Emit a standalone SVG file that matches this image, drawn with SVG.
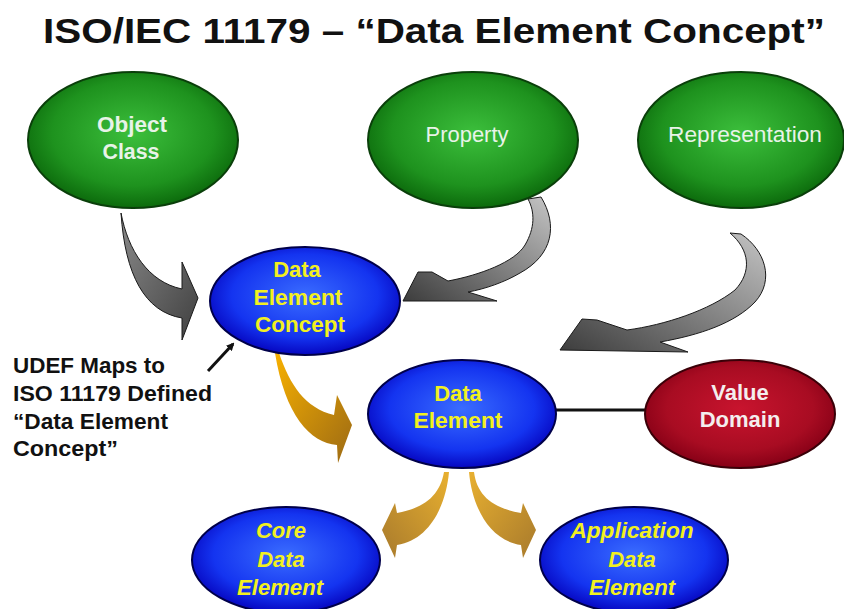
<svg xmlns="http://www.w3.org/2000/svg" width="844" height="609" viewBox="0 0 844 609">
<defs>
  <radialGradient id="gGreen" cx="50%" cy="45%" r="55%">
    <stop offset="0" stop-color="#3cbf3c"/>
    <stop offset="0.7" stop-color="#1e921e"/>
    <stop offset="1" stop-color="#0c6a0c"/>
  </radialGradient>
  <radialGradient id="gBlue" cx="50%" cy="45%" r="55%">
    <stop offset="0" stop-color="#3a6cff"/>
    <stop offset="0.7" stop-color="#1434f0"/>
    <stop offset="1" stop-color="#0606c0"/>
  </radialGradient>
  <radialGradient id="gRed" cx="50%" cy="45%" r="55%">
    <stop offset="0" stop-color="#c8142e"/>
    <stop offset="0.7" stop-color="#a80c22"/>
    <stop offset="1" stop-color="#860016"/>
  </radialGradient>
  <linearGradient id="gGray1" x1="0" y1="0" x2="1" y2="1">
    <stop offset="0" stop-color="#8a8a8a"/>
    <stop offset="1" stop-color="#404040"/>
  </linearGradient>
  <linearGradient id="gGray2" x1="1" y1="0" x2="0" y2="1">
    <stop offset="0" stop-color="#c4c4c4"/>
    <stop offset="1" stop-color="#3c3c3c"/>
  </linearGradient>
  <linearGradient id="gGold" x1="0" y1="0" x2="1" y2="1">
    <stop offset="0" stop-color="#f7b000"/>
    <stop offset="1" stop-color="#9c6a14"/>
  </linearGradient>
  <linearGradient id="gGoldL" x1="1" y1="0" x2="0" y2="1">
    <stop offset="0" stop-color="#e8b030"/>
    <stop offset="1" stop-color="#a87a2c"/>
  </linearGradient>
  <linearGradient id="gGoldR" x1="0" y1="0" x2="1" y2="1">
    <stop offset="0" stop-color="#e8b030"/>
    <stop offset="1" stop-color="#a87a2c"/>
  </linearGradient>
  <marker id="blackHead" markerWidth="8" markerHeight="8" refX="6" refY="4" orient="auto" markerUnits="userSpaceOnUse">
    <path d="M0,0 L8,4 L0,8 Z" fill="#111"/>
  </marker>
</defs>
<style>
  text { font-family: "Liberation Sans", Arial, sans-serif; }
  .title { font-size: 35px; font-weight: bold; fill: #111; }
  .green { fill: url(#gGreen); stroke: #0a3f0a; stroke-width: 2; }
  .blue { fill: url(#gBlue); stroke: #00004a; stroke-width: 2; }
  .red { fill: url(#gRed); stroke: #3a0008; stroke-width: 2; }
  .gtxt { font-size: 22px; fill: #e8f3e8; text-anchor: middle; }
  .btxt { font-size: 22px; font-weight: bold; fill: #f2f020; text-anchor: middle; }
  .itxt { font-size: 22px; font-weight: bold; font-style: italic; fill: #f2f020; text-anchor: middle; }
  .wtxt { font-size: 22px; font-weight: bold; fill: #f4eeee; text-anchor: middle; }
  .note { font-size: 22px; font-weight: bold; fill: #111; }
  .garrow { stroke: #1a1a1a; stroke-width: 1; stroke-linejoin: round; }
  .oarrow { stroke: none; }
</style>

<text class="title" x="43" y="43" textLength="782" lengthAdjust="spacingAndGlyphs">ISO/IEC 11179 – “Data Element Concept”</text>

<g id="connectors">
  <path class="garrow" fill="url(#gGray1)" d="M121,213 C128,250 148,282 182,289 L182,262 L198,298 L182,340 L182,318 C145,312 125,275 121,213 Z"/>
  <path class="garrow" fill="url(#gGray2)" d="M541,197 C558,225 553,255 520,273 C505,282 485,289 468,292 L497,301 L403,301 L418,272 L432,272 L448,281 C480,275 515,262 525,245 C535,228 535,212 528,199 Z"/>
  <path class="garrow" fill="url(#gGray2)" d="M730,233 L741,234 C765,250 775,280 755,302 C735,323 700,335 660,342 L688,352 L560,350 L582,319 L597,320 L627,330 C665,325 710,310 735,290 C752,272 750,250 730,233 Z"/>
  <path class="oarrow" fill="url(#gGold)" d="M275,353 L279,353 C290,385 305,408 334,415 L337,395 L352,425 L338,463 L337,445 C310,443 285,415 275,353 Z"/>
  <path class="oarrow" fill="url(#gGoldL)" d="M444,472 L449,472 C446,505 430,540 397,545 L395,558 L382,530 L395,503 L397,513 C425,508 440,495 444,472 Z"/>
  <path class="oarrow" fill="url(#gGoldR)" d="M474,472 C477,495 492,508 521,513 L523,503 L536,530 L523,558 L521,545 C488,540 472,505 469,472 Z"/>
  <line x1="555" y1="410" x2="646" y2="410" stroke="#111" stroke-width="3"/>
  <line x1="208" y1="371" x2="233" y2="344" stroke="#111" stroke-width="3" marker-end="url(#blackHead)"/>
</g>

<g id="object-class">
  <ellipse class="green" cx="133" cy="140" rx="105" ry="68"/>
  <text class="gtxt" x="132" y="132" font-weight="bold" textLength="70" lengthAdjust="spacingAndGlyphs">Object</text>
  <text class="gtxt" x="131" y="159" font-weight="bold" textLength="57" lengthAdjust="spacingAndGlyphs">Class</text>
</g>
<g id="property">
  <ellipse class="green" cx="473" cy="140" rx="105" ry="68"/>
  <text class="gtxt" x="467" y="142" textLength="83" lengthAdjust="spacingAndGlyphs">Property</text>
</g>
<g id="representation">
  <ellipse class="green" cx="741" cy="140" rx="103" ry="68"/>
  <text class="gtxt" x="745" y="142" textLength="154" lengthAdjust="spacingAndGlyphs">Representation</text>
</g>
<g id="data-element-concept">
  <ellipse class="blue" cx="305" cy="301" rx="95" ry="54"/>
  <text class="btxt" x="297" y="277">Data</text>
  <text class="btxt" x="298" y="305" textLength="89" lengthAdjust="spacingAndGlyphs">Element</text>
  <text class="btxt" x="300" y="332" textLength="90" lengthAdjust="spacingAndGlyphs">Concept</text>
</g>
<g id="data-element">
  <ellipse class="blue" cx="462" cy="414" rx="94" ry="54"/>
  <text class="btxt" x="458" y="401">Data</text>
  <text class="btxt" x="458" y="428" textLength="89" lengthAdjust="spacingAndGlyphs">Element</text>
</g>
<g id="value-domain">
  <ellipse class="red" cx="740" cy="414" rx="95" ry="54"/>
  <text class="wtxt" x="740" y="400">Value</text>
  <text class="wtxt" x="740" y="427">Domain</text>
</g>
<g id="core-data-element">
  <ellipse class="blue" cx="286" cy="560" rx="94" ry="53"/>
  <text class="itxt" x="281" y="538">Core</text>
  <text class="itxt" x="281" y="567">Data</text>
  <text class="itxt" x="280" y="595" textLength="86" lengthAdjust="spacingAndGlyphs">Element</text>
</g>
<g id="application-data-element">
  <ellipse class="blue" cx="634" cy="560" rx="94" ry="53"/>
  <text class="itxt" x="632" y="538" textLength="123" lengthAdjust="spacingAndGlyphs">Application</text>
  <text class="itxt" x="632" y="567">Data</text>
  <text class="itxt" x="632" y="595" textLength="86" lengthAdjust="spacingAndGlyphs">Element</text>
</g>
<g id="udef-note">
  <text class="note" x="13" y="373" textLength="152" lengthAdjust="spacingAndGlyphs">UDEF Maps to</text>
  <text class="note" x="13" y="401" textLength="199" lengthAdjust="spacingAndGlyphs">ISO 11179 Defined</text>
  <text class="note" x="13" y="429" textLength="155" lengthAdjust="spacingAndGlyphs">“Data Element</text>
  <text class="note" x="13" y="456" textLength="105" lengthAdjust="spacingAndGlyphs">Concept”</text>
</g>
</svg>
